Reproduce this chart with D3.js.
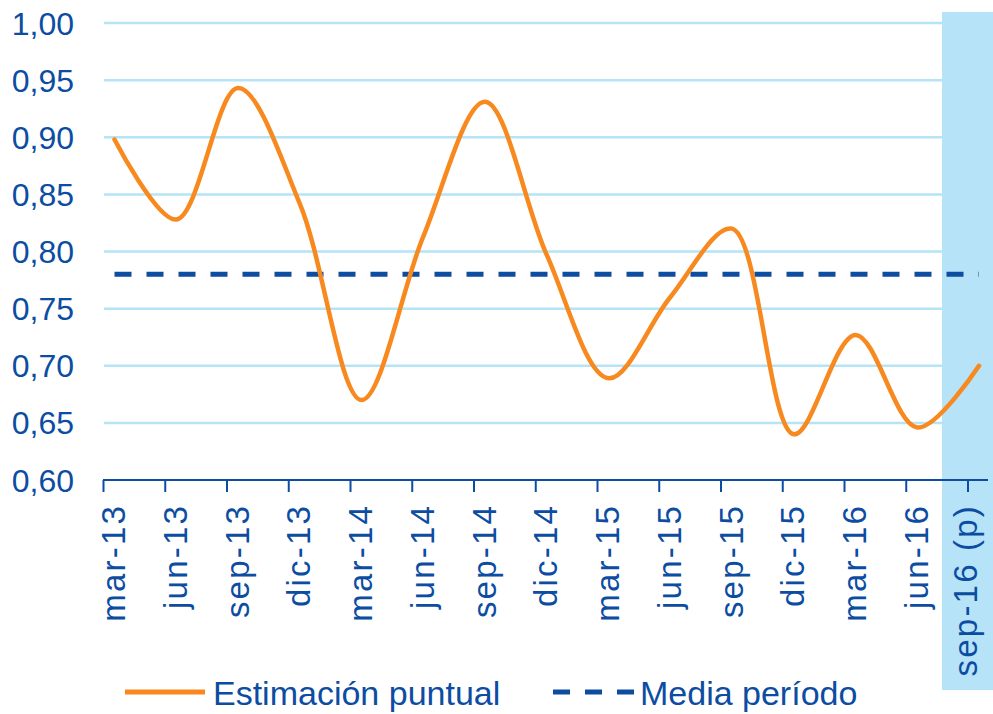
<!DOCTYPE html>
<html>
<head>
<meta charset="utf-8">
<script src="https://cdn.jsdelivr.net/npm/d3@7"></script>
<style>
  html, body { margin: 0; padding: 0; background: #ffffff; }
  svg { display: block; }
  text { font-family: "Liberation Sans", Arial, sans-serif; fill: #0c4da2; }
</style>
</head>
<body>
<svg id="chart" width="993" height="714"></svg>
<script>
const categories = ["mar-13","jun-13","sep-13","dic-13","mar-14","jun-14","sep-14","dic-14","mar-15","jun-15","sep-15","dic-15","mar-16","jun-16","sep-16 (p)"];
const estimacion = [0.898, 0.828, 0.943, 0.842, 0.670, 0.813, 0.931, 0.797, 0.689, 0.760, 0.820, 0.640, 0.727, 0.646, 0.700];
const mediaPeriodo = 0.78;
const yTicks = [0.60, 0.65, 0.70, 0.75, 0.80, 0.85, 0.90, 0.95, 1.00];
const legendLabels = ["Estimación puntual", "Media período"];
const highlightCategory = "sep-16 (p)";

const blue = "#0c4da2";
const orange = "#f7891f";
const grid = "#b5e4f7";
const shade = "#b6e3f8";

const svg = d3.select("#chart");
const x = d3.scalePoint().domain(categories).range([114.5, 979]);
const y = d3.scaleLinear().domain([0.60, 1.00]).range([480, 23]);

// gridlines
svg.append("g").selectAll("line")
  .data(yTicks.filter(d => d > 0.6))
  .join("line")
  .attr("x1", 104).attr("x2", 942)
  .attr("y1", d => y(d)).attr("y2", d => y(d))
  .attr("stroke", grid).attr("stroke-width", 2.5);

// highlight band for projected period
svg.append("rect")
  .attr("x", x(highlightCategory) - 37)
  .attr("y", 12)
  .attr("width", 993 - (x(highlightCategory) - 37))
  .attr("height", 678)
  .attr("fill", shade);

// y labels
svg.append("g").selectAll("text")
  .data(yTicks)
  .join("text")
  .attr("x", 74)
  .attr("y", d => y(d))
  .attr("dy", "0.36em")
  .attr("text-anchor", "end")
  .style("font-size", "32px")
  .text(d => d3.format(".2f")(d).replace(".", ","));

// x axis line
svg.append("line")
  .attr("x1", x(categories[0]) - 11.5).attr("x2", 988)
  .attr("y1", 480).attr("y2", 480)
  .attr("stroke", blue).attr("stroke-width", 2);

// ticks
svg.append("g").selectAll("line")
  .data(categories)
  .join("line")
  .attr("x1", d => x(d) - 11).attr("x2", d => x(d) - 11)
  .attr("y1", 480).attr("y2", 492)
  .attr("stroke", blue).attr("stroke-width", 2);

// x labels
svg.append("g").selectAll("text")
  .data(categories)
  .join("text")
  .attr("transform", d => `translate(${Math.min(x(d) + 10.5, 977)},504) rotate(-90)`)
  .attr("text-anchor", "end")
  .style("font-size", "33px")
  .style("letter-spacing", "2.2px")
  .text(d => d);

// mean line
svg.append("line")
  .attr("x1", x(categories[0])).attr("x2", x(categories[categories.length - 1]))
  .attr("y1", y(mediaPeriodo)).attr("y2", y(mediaPeriodo))
  .attr("stroke", blue).attr("stroke-width", 5)
  .attr("stroke-dasharray", "17,15");

// estimation line
const line = d3.line()
  .x((d, i) => x(categories[i]))
  .y(d => y(d))
  .curve(d3.curveCatmullRom.alpha(0.5));
svg.append("path")
  .datum(estimacion)
  .attr("d", line)
  .attr("fill", "none")
  .attr("stroke", orange)
  .attr("stroke-width", 4.5)
  .attr("stroke-linecap", "round");

// legend
const lg = svg.append("g");
lg.append("line").attr("x1", 125).attr("x2", 205).attr("y1", 692).attr("y2", 692)
  .attr("stroke", orange).attr("stroke-width", 5);
lg.append("text").attr("x", 213).attr("y", 705).style("font-size", "34px").text(legendLabels[0]);
lg.append("line").attr("x1", 553).attr("x2", 634).attr("y1", 692).attr("y2", 692)
  .attr("stroke", blue).attr("stroke-width", 5).attr("stroke-dasharray", "17,15");
lg.append("text").attr("x", 640).attr("y", 705).style("font-size", "34px").text(legendLabels[1]);
</script>
</body>
</html>
